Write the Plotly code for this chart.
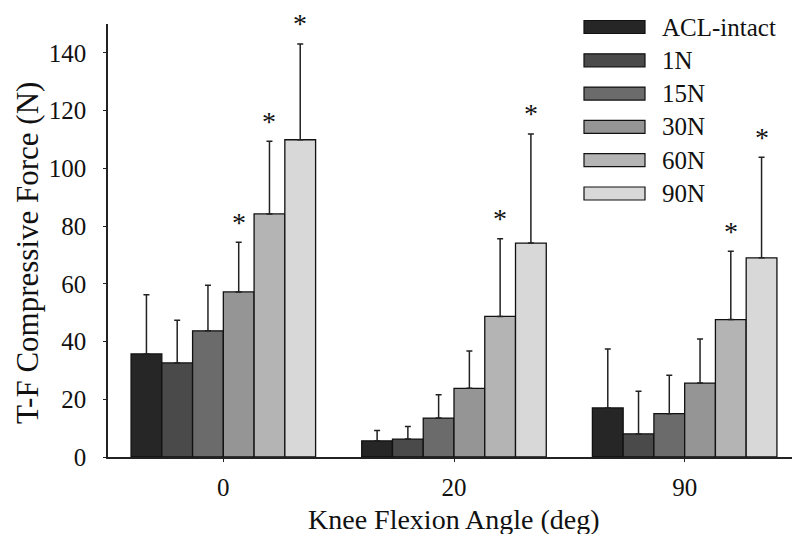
import plotly.graph_objects as go

angles = ["0", "20", "90"]
series = ["ACL-intact", "1N", "15N", "30N", "60N", "90N"]
colors = ["#262626", "#4a4a4a", "#6b6b6b", "#959595", "#b4b4b4", "#d8d8d8"]

mean_acl = [35.7, 5.6, 17.0]
mean_1n = [32.6, 6.2, 8.0]
mean_15n = [43.7, 13.5, 15.0]
mean_30n = [57.2, 23.8, 25.6]
mean_60n = [84.2, 48.7, 47.6]
mean_90n = [109.9, 74.1, 69.0]

sd_acl = [20.5, 3.6, 20.4]
sd_1n = [14.8, 4.4, 14.8]
sd_15n = [15.8, 8.1, 13.3]
sd_30n = [17.2, 12.9, 15.3]
sd_60n = [25.2, 26.9, 23.7]
sd_90n = [33.2, 37.8, 34.8]

sig_acl = [False, False, False]
sig_1n = [False, False, False]
sig_15n = [False, False, False]
sig_30n = [True, False, False]
sig_60n = [True, True, True]
sig_90n = [True, True, True]

means = [mean_acl, mean_1n, mean_15n, mean_30n, mean_60n, mean_90n]
sds = [sd_acl, sd_1n, sd_15n, sd_30n, sd_60n, sd_90n]
sigs = [sig_acl, sig_1n, sig_15n, sig_30n, sig_60n, sig_90n]

FONT = "Liberation Serif"
INK = "#111111"

fig = go.Figure()
for name, col, m, s in zip(series, colors, means, sds):
    fig.add_trace(go.Bar(
        x=angles, y=m, name=name,
        marker=dict(color=col, line=dict(color=INK, width=1.3)),
        error_y=dict(type="data", symmetric=False, array=s, arrayminus=[0] * len(s),
                     color="#222222", thickness=1.5, width=3),
        showlegend=False,
    ))

# significance asterisks
n = len(series)
group_frac = 0.8
bw = group_frac / n
annotations = []
for i, (m, s, sg) in enumerate(zip(means, sds, sigs)):
    for g in range(len(angles)):
        if sg[g]:
            annotations.append(dict(
                x=g + (i - (n - 1) / 2) * bw, y=m[g] + s[g], xref="x", yref="y",
                text="*", showarrow=False, yanchor="middle", yshift=20,
                font=dict(family=FONT, size=28, color=INK),
            ))

l, r, t, b = 100, 8, 16, 85
W, H = 800, 534
pw, ph = W - l - r, H - t - b
def px_x(v):
    return (v - l) / pw
def px_y(v):
    return (H - b - v) / ph

# manual legend (wide swatches)
shapes = []
for i, (name, col) in enumerate(zip(series, colors)):
    yc = 19 + 33.3 * i
    shapes.append(dict(type="rect", xref="paper", yref="paper",
                       x0=px_x(576), x1=px_x(637), y0=px_y(yc + 6.5), y1=px_y(yc - 6.5),
                       fillcolor=col, line=dict(color=INK, width=1.2)))
    annotations.append(dict(x=px_x(652), y=px_y(yc), xref="paper", yref="paper",
                            text=name, showarrow=False, xanchor="left", yanchor="middle",
                            font=dict(family=FONT, size=25, color=INK)))

# axis titles
annotations.append(dict(x=0.5, y=px_y(511), xref="paper", yref="paper",
                        text="Knee Flexion Angle (deg)", showarrow=False,
                        xanchor="center", yanchor="middle",
                        font=dict(family=FONT, size=28, color=INK)))
annotations.append(dict(x=px_x(19), y=px_y(245), xref="paper", yref="paper",
                        text="T-F Compressive Force (N)", showarrow=False, textangle=-90,
                        xanchor="center", yanchor="middle",
                        font=dict(family=FONT, size=31, color=INK)))

fig.update_layout(
    width=W, height=H,
    margin=dict(l=l, r=r, t=t, b=b, autoexpand=False),
    barmode="group", bargap=1 - group_frac, bargroupgap=0,
    plot_bgcolor="white", paper_bgcolor="white",
    font=dict(family=FONT, color=INK),
    shapes=shapes, annotations=annotations,
    xaxis=dict(
        showline=True, linecolor="#222222", linewidth=1.5,
        ticks="outside", ticklen=3, tickcolor="#222222",
        tickfont=dict(family=FONT, size=25, color=INK), ticklabelstandoff=4,
        range=[-0.5, 2.5], showgrid=False, zeroline=False, automargin=False,
    ),
    yaxis=dict(
        range=[0, 150], tickvals=[0, 20, 40, 60, 80, 100, 120, 140],
        showline=True, linecolor="#222222", linewidth=1.5,
        ticks="outside", ticklen=3, tickcolor="#222222",
        tickfont=dict(family=FONT, size=25, color=INK), ticklabelstandoff=12,
        showgrid=False, zeroline=False, automargin=False,
    ),
)

fig.write_html("out.html")
